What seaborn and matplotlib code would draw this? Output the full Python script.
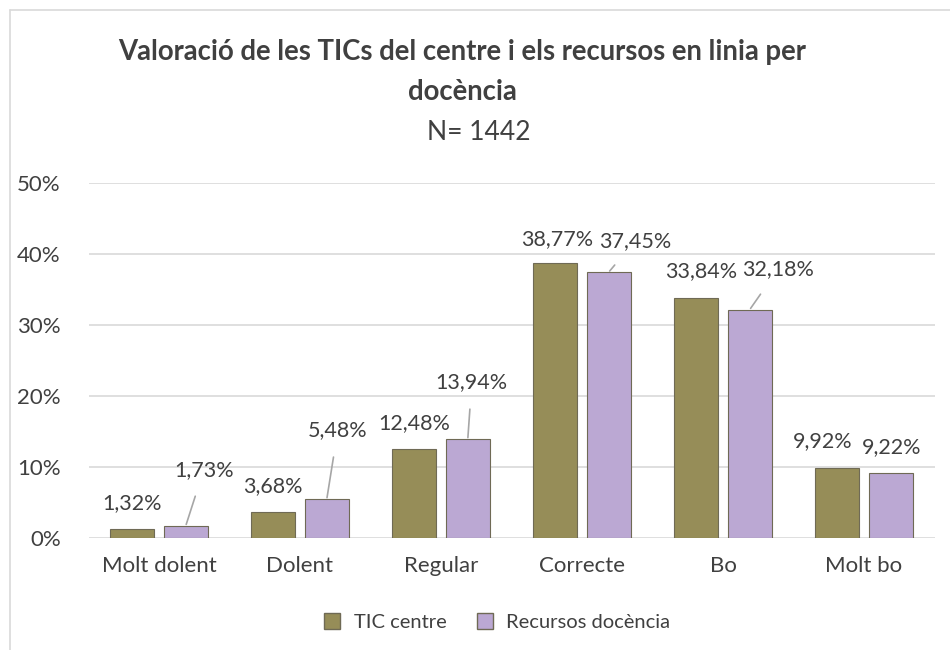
import pandas as pd
import matplotlib.pyplot as plt
import seaborn as sns
from matplotlib.lines import Line2D

# ---------------------------------------------------------
# Data
# ---------------------------------------------------------

categories = ["Molt dolent", "Dolent", "Regular", "Correcte", "Bo", "Molt bo"]
series_names = ["TIC centre", "Recursos docència"]
tic_centre = [1.32, 3.68, 12.48, 38.77, 33.84, 9.92]
recursos_docencia = [1.73, 5.48, 13.94, 37.45, 32.18, 9.22]
y_ticks = [0, 10, 20, 30, 40, 50]

df = pd.DataFrame({
    "categoria": categories * 2,
    "serie": [series_names[0]] * len(categories) + [series_names[1]] * len(categories),
    "valor": tic_centre + recursos_docencia,
})

# label offsets (pixels) from bar top, purple labels sit on leader lines
olive_off = [(0, 26), (0, 26), (0, 26), (2, 24), (5, 27), (-15, 26)]
purple_off = [(18, 56), (11, 69), (4, 57), (26, 31), (28, 40), (1, 25)]

# ---------------------------------------------------------
# Plot
# ---------------------------------------------------------

sns.set_theme(style="white")
plt.rcParams["font.family"] = ["Lato", "DejaVu Sans"]
TXT = "#404040"
OLIVE = "#968d58"
PURPLE = "#bba8d3"

fig = plt.figure(figsize=(9.5, 6.5), dpi=100)
ax = fig.add_axes([88.5 / 950, 112 / 650, 846 / 950, 355 / 650])

sns.barplot(data=df, x="categoria", y="valor", hue="serie", order=categories,
            hue_order=series_names, palette=[OLIVE, PURPLE], saturation=1,
            width=0.76, gap=0.18, edgecolor="#6f6a55", linewidth=0.8,
            legend=False, ax=ax)

ax.set_ylim(0, 50)
ax.set_yticks(y_ticks)
ax.set_yticklabels([f"{t}%" for t in y_ticks], fontsize=16, color=TXT)
ax.set_xlabel("")
ax.set_ylabel("")
ax.tick_params(axis="x", length=0, pad=13, labelsize=16, labelcolor=TXT)
ax.tick_params(axis="y", length=0, pad=20)
ax.yaxis.grid(True, color="#d9d9d9", linewidth=1.2)
ax.set_axisbelow(True)
for s in ax.spines.values():
    s.set_visible(False)
ax.set_xlim(-0.5, len(categories) - 0.5)

# data labels
for cont, offs, leader in zip(ax.containers, [olive_off, purple_off], [False, True]):
    for bar, (dx, dy) in zip(cont, offs):
        h = bar.get_height()
        x = bar.get_x() + bar.get_width() / 2
        lab = f"{h:.2f}%".replace(".", ",")
        props = None
        if leader and (dx > 5 or dy > 35):
            props = dict(arrowstyle="-", color="#a6a6a6", lw=1.2, shrinkA=10, shrinkB=1)
        ax.annotate(lab, xy=(x, h), xytext=(dx, dy), textcoords="offset pixels",
                    ha="center", va="center", fontsize=15.5, color=TXT,
                    arrowprops=props)

# title
fig.text(462 / 950, 1 - 52 / 650, "Valoració de les TICs del centre i els recursos en linia per",
         ha="center", va="center", fontsize=19.8, fontweight="bold", color=TXT)
fig.text(462 / 950, 1 - 92 / 650, "docència", ha="center", va="center",
         fontsize=19.8, fontweight="bold", color=TXT)
fig.text(479 / 950, 1 - 132 / 650, "N= 1442", ha="center", va="center",
         fontsize=19, color=TXT)

# legend
handles = [Line2D([], [], marker="s", linestyle="", markersize=11, markerfacecolor=c,
                  markeredgecolor="#6f6a55") for c in [OLIVE, PURPLE]]
fig.legend(handles, series_names, loc="center", bbox_to_anchor=(491 / 950, 1 - 622 / 650),
           ncol=2, frameon=False, fontsize=14.5, labelcolor=TXT, handletextpad=0.05,
           columnspacing=0.9)

# chart border
fig.add_artist(Line2D([10 / 950, 10 / 950], [0, 1 - 10 / 650], color="#d9d9d9", lw=1.2))
fig.add_artist(Line2D([10 / 950, 1], [1 - 10 / 650, 1 - 10 / 650], color="#d9d9d9", lw=1.2))

fig.savefig("out.png", dpi=100, facecolor="white")
